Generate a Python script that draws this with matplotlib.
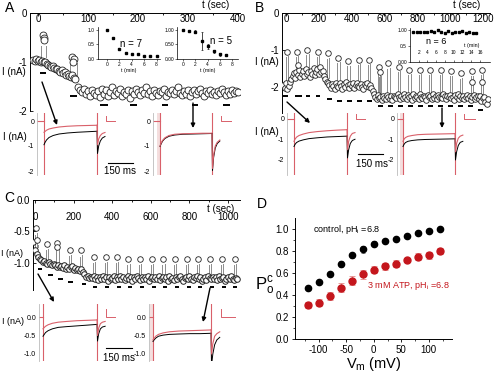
import numpy as np
import matplotlib
matplotlib.use('Agg')
import matplotlib.pyplot as plt

plt.rcParams['font.family'] = ['Liberation Sans', 'DejaVu Sans']
plt.rcParams['mathtext.fontset'] = 'custom'
plt.rcParams['mathtext.rm'] = 'Liberation Sans'
plt.rcParams['mathtext.it'] = 'Liberation Sans'

# ---------------- data ----------------
# Panel A time course
A_t_early = np.arange(-10, 76, 3)
A_v_early = [-0.95, -0.97, -0.93, -0.98, -0.96, -1.0, -0.97, -1.01, -1.0, -1.04,
             -1.06, -1.08, -1.1, -1.09, -1.13, -1.15, -1.14, -1.18, -1.2, -1.17,
             -1.23, -1.21, -1.26, -1.24, -1.28, -1.3, -1.27, -1.32, -1.35]
A_t_late = np.arange(80, 404, 4)
A_v_late = [-1.52, -1.58, -1.62, -1.55, -1.66, -1.6, -1.7, -1.57, -1.63, -1.68,
            -1.6, -1.72, -1.55, -1.65, -1.58, -1.7, -1.62, -1.5, -1.67, -1.6,
            -1.64, -1.56, -1.7, -1.61, -1.66, -1.58, -1.73, -1.6, -1.65, -1.55,
            -1.62, -1.68, -1.57, -1.64, -1.5, -1.66, -1.6, -1.7, -1.58, -1.63,
            -1.67, -1.59, -1.62, -1.55, -1.69, -1.61, -1.64, -1.57, -1.66, -1.6,
            -1.52, -1.63, -1.68, -1.6, -1.65, -1.57, -1.7, -1.62, -1.58, -1.66,
            -1.6, -1.55, -1.64, -1.69, -1.6, -1.63, -1.57, -1.66, -1.61, -1.68,
            -1.59, -1.64, -1.56, -1.62, -1.67, -1.6, -1.65, -1.58, -1.63, -1.6, -1.62]
A_spike_t = [9, 12, 11, 67, 71, 69]
A_spike_v = [-0.45, -0.52, -0.56, -0.89, -0.94, -0.99]
A_stem_t = [6, 16, 64, 77]
A_stem_top = [-0.67, -0.67, -1.02, -1.02]
A_stem_bot = [-0.89, -0.89, -1.3, -1.37]
A_dash_start = [4, 64, 124, 184, 248, 308, 370]
A_dash_end = [16, 78, 140, 198, 260, 320, 384]
A_dash_level = [-1.22, -1.69, -1.88, -1.88, -1.88, -1.88, -1.88]

A1_t = [0, 1, 2, 3, 4, 5, 6, 7, 8]
A1_v = [1.0, 0.72, 0.35, 0.22, 0.18, 0.17, 0.1, 0.1, 0.12]
A1_e = [0.0, 0.04, 0.02, 0.03, 0.02, 0.02, 0.01, 0.01, 0.02]
A2_t = [0, 1, 2, 3, 4, 5, 6, 7]
A2_v = [1.0, 0.97, 0.93, 0.62, 0.43, 0.26, 0.16, 0.14]
A2_e = [0.0, 0.02, 0.05, 0.3, 0.1, 0.05, 0.05, 0.02]

# Panel B time course
B_t = np.arange(-16, 1236, 8)
B_v = [-1.95, -2.02, -1.9, -2.06, -1.98, -1.85, -1.78, -1.7,
       -1.62, -1.75, -1.58, -1.68, -1.55, -1.72, -1.64, -1.57, -1.7, -1.5,
       -1.66, -1.6, -1.73, -1.56, -1.65, -1.48, -1.68, -1.6, -1.52, -1.66,
       -1.45, -1.6, -1.56, -1.7, -1.78, -1.85,
       -1.9, -1.95, -2.02, -1.92, -1.98, -2.05, -1.9, -1.96, -2.0, -1.88,
       -1.97, -2.04, -1.93, -1.99, -1.86, -1.95, -2.02, -1.92, -1.98, -1.9,
       -2.03, -1.95, -1.88, -1.97, -2.0, -1.93, -1.99, -2.05, -1.92, -1.96,
       -1.9, -2.0, -1.95, -2.02, -2.1,
       -2.2, -2.28, -2.32, -2.22, -2.3, -2.26, -2.35, -2.24, -2.29, -2.33,
       -2.21, -2.27, -2.31, -2.25, -2.36, -2.23, -2.28, -2.3, -2.2, -2.26,
       -2.32, -2.24, -2.29, -2.18, -2.27, -2.33, -2.22, -2.28, -2.25, -2.35,
       -2.2, -2.3, -2.24, -2.27, -2.32, -2.19, -2.26, -2.3, -2.23, -2.28,
       -2.34, -2.21, -2.27, -2.25, -2.31, -2.2, -2.29, -2.24, -2.33, -2.22,
       -2.28, -2.26, -2.3, -2.19, -2.25, -2.32, -2.23, -2.28, -2.21, -2.3,
       -2.26, -2.34, -2.22, -2.27, -2.2, -2.31, -2.25, -2.29, -2.23, -2.33,
       -2.27, -2.21, -2.3, -2.24, -2.36, -2.26, -2.22, -2.31, -2.28, -2.25,
       -2.33, -2.24, -2.38, -2.3, -2.27, -2.4, -2.45, -2.32]
B_spike_t = [4, 65, 73, 130, 193, 254, 319, 380, 445, 506, 567, 573, 624, 689,
             752, 817, 878, 943, 1004, 1065, 1132, 1132, 1195, 1195]
B_spike_v = [-1.05, -1.05, -1.4, -1.0, -1.05, -1.09, -1.21, -1.3, -1.27, -1.27,
             -1.45, -1.59, -1.36, -1.45, -1.54, -1.54, -1.54, -1.54, -1.57,
             -1.63, -1.57, -1.86, -1.54, -1.86]
B_stem_bot = [-1.95, -1.6, -1.6, -1.65, -1.62, -1.75, -1.92, -1.95, -1.95, -1.95,
              -2.2, -2.2, -2.2, -2.22, -2.22, -2.22, -2.22, -2.22, -2.22,
              -2.22, -2.2, -2.2, -2.2, -2.2]
B_dash_start = [-20, 55, 120, 181, 248, 309, 370, 431, 496, 563, 624, 685, 746,
                807, 868, 929, 990, 1051, 1112, 1173]
B_dash_end = [14, 96, 146, 207, 279, 340, 401, 462, 522, 593, 654, 711, 772,
              833, 894, 959, 1020, 1077, 1138, 1203]
B_dash_level = [-2.24, -2.24, -2.24, -2.24, -2.31, -2.37, -2.37, -2.37, -2.37,
                -2.5, -2.5, -2.5, -2.5, -2.5, -2.5, -2.5, -2.5, -2.5, -2.5, -2.62]
B_in_t = [0.7, 1.5, 2.3, 3.1, 3.9, 4.7, 5.5, 6.3, 7.1, 7.9, 8.7, 9.5, 10.3,
          11.1, 11.9, 12.7, 13.5, 14.3, 15.1]
B_in_v = [0.94, 0.92, 0.93, 0.94, 0.95, 0.97, 0.95, 1.0, 0.94, 0.91, 0.97, 0.9,
          0.95, 0.93, 0.96, 0.9, 0.92, 0.91, 0.9]

# Panel C time course
C_t = np.arange(-8, 1056, 8)
C_v = [-0.66, -0.8, -0.86, -0.9, -0.94,
       -0.96, -0.98, -0.97, -1.0, -1.01, -0.99, -1.02, -1.03, -1.01,
       -1.04, -1.06, -1.03, -1.07, -1.05, -1.08, -1.04, -1.09, -1.06, -1.1,
       -1.07, -1.05, -1.11, -1.08, -1.12, -1.09, -1.13, -1.1, -1.15,
       -1.18, -1.22, -1.2, -1.24, -1.22,
       -1.24, -1.21, -1.26, -1.23, -1.27, -1.22, -1.25, -1.2, -1.26, -1.23,
       -1.28, -1.22, -1.25, -1.24, -1.21, -1.27, -1.23, -1.26, -1.2, -1.25,
       -1.22, -1.27, -1.24, -1.21, -1.26, -1.23, -1.28, -1.22, -1.25, -1.2,
       -1.24, -1.27, -1.22, -1.25, -1.23, -1.26, -1.21, -1.28, -1.24, -1.22,
       -1.26, -1.23, -1.25, -1.2, -1.27, -1.24, -1.22, -1.26, -1.23, -1.28,
       -1.21, -1.25, -1.24, -1.27, -1.22, -1.26, -1.23, -1.2, -1.25, -1.28,
       -1.24, -1.22, -1.26, -1.21, -1.25, -1.27, -1.23, -1.24, -1.2, -1.26,
       -1.22, -1.28, -1.25, -1.23, -1.27, -1.21, -1.24, -1.26, -1.22, -1.25,
       -1.23, -1.27, -1.2, -1.26, -1.24, -1.22, -1.28, -1.25, -1.23, -1.26,
       -1.21, -1.25, -1.27, -1.24, -1.26]
C_spike_t = [5, 8, 60, 116, 116, 181, 238, 307, 368, 423, 484, 544, 604, 665,
             725, 786, 846, 907, 970, 1036]
C_spike_v = [-0.45, -0.64, -0.7, -0.68, -0.74, -0.79, -0.8, -0.9, -0.9, -0.9,
             -0.93, -0.93, -0.93, -0.93, -0.94, -0.94, -0.94, -0.94, -0.94, -0.94]
C_stem_bot = [-0.75, -0.75, -1.0, -1.05, -1.05, -1.08, -1.1, -1.2, -1.2, -1.2,
              -1.2, -1.2, -1.2, -1.2, -1.2, -1.2, -1.2, -1.2, -1.2, -1.2]
C_dash_start = [17, 69, 121, 173, 242, 302, 363, 423, 484, 544, 604, 665, 725,
                786, 846, 906, 967, 1027]
C_dash_end = [38, 92, 143, 195, 264, 323, 384, 444, 505, 565, 625, 686, 746,
              807, 867, 927, 988, 1048]
C_dash_level = [-1.1, -1.19, -1.25, -1.31, -1.34] + [-1.39] * 13

# Current traces (ms after step onset, nA)
PULSE = 318
T_ON = [0, 6, 15, 30, 55, 90, 140, 200, 260, 318]
T_TAIL = [318, 321, 328, 338, 350, 366]
TR = {
    'A1': dict(red=[-0.45, -0.42, -0.37, -0.32, -0.28, -0.24, -0.21, -0.19, -0.18, -0.17],
               blk=[-0.95, -0.86, -0.76, -0.66, -0.58, -0.52, -0.48, -0.45, -0.43, -0.41],
               red_t=[-0.17, -0.95, -0.72, -0.58, -0.5, -0.46],
               blk_t=[-0.41, -1.3, -1.0, -0.8, -0.68, -0.62]),
    'A2': dict(red=[-1.0, -0.9, -0.78, -0.67, -0.58, -0.53, -0.51, -0.5, -0.49, -0.49],
               blk=[-1.02, -0.93, -0.81, -0.7, -0.61, -0.56, -0.53, -0.52, -0.51, -0.5],
               red_t=[-0.49, -1.9, -1.35, -1.0, -0.85, -0.76],
               blk_t=[-0.5, -1.98, -1.45, -1.08, -0.9, -0.8]),
    'B1': dict(red=[-1.1, -1.0, -0.9, -0.82, -0.75, -0.68, -0.63, -0.59, -0.56, -0.54],
               blk=[-1.35, -1.25, -1.16, -1.09, -1.03, -0.97, -0.93, -0.89, -0.87, -0.85],
               red_t=[-0.54, -1.5, -1.1, -0.85, -0.72, -0.68],
               blk_t=[-0.85, -1.9, -1.5, -1.2, -1.06, -1.0]),
    'B2': dict(red=[-1.1, -1.0, -0.92, -0.86, -0.82, -0.78, -0.76, -0.75, -0.74, -0.73],
               blk=[-1.35, -1.25, -1.16, -1.1, -1.06, -1.03, -1.01, -1.0, -0.99, -0.98],
               red_t=[-0.73, -1.6, -1.2, -0.95, -0.85, -0.8],
               blk_t=[-0.98, -2.0, -1.6, -1.3, -1.15, -1.1]),
    'C1': dict(red=[-0.32, -0.29, -0.25, -0.21, -0.17, -0.14, -0.12, -0.1, -0.09, -0.08],
               blk=[-0.52, -0.48, -0.42, -0.37, -0.32, -0.28, -0.26, -0.24, -0.22, -0.2],
               red_t=[-0.08, -0.5, -0.3, -0.18, -0.14, -0.12],
               blk_t=[-0.2, -0.65, -0.45, -0.32, -0.27, -0.25]),
    'C2': dict(red=[-0.62, -0.58, -0.52, -0.47, -0.43, -0.4, -0.38, -0.37, -0.36, -0.35],
               blk=[-0.66, -0.62, -0.57, -0.52, -0.49, -0.47, -0.46, -0.45, -0.45, -0.44],
               red_t=[-0.35, -1.0, -0.72, -0.52, -0.45, -0.4],
               blk_t=[-0.44, -1.3, -1.0, -0.75, -0.62, -0.55]),
}

# Panel D
D_vm = [-120, -100, -80, -60, -40, -20, 0, 20, 40, 60, 80, 100, 120]
D_ctrl = [0.466, 0.515, 0.59, 0.68, 0.76, 0.815, 0.867, 0.89, 0.91, 0.94, 0.965, 0.98, 1.0]
D_ctrl_err = [0.015, 0.015, 0.015, 0.025, 0.02, 0.035, 0.02, 0.015, 0.02, 0.015, 0.015, 0.012, 0.01]
D_atp = [0.31, 0.33, 0.39, 0.466, 0.53, 0.59, 0.63, 0.66, 0.685, 0.72, 0.75, 0.76, 0.80]
D_atp_err = [0.03, 0.03, 0.035, 0.04, 0.04, 0.04, 0.03, 0.035, 0.03, 0.02, 0.03, 0.03, 0.03]

# ---------------- drawing ----------------
W, H = 500, 372
fig = plt.figure(figsize=(5, 3.72), dpi=100)
RED_L = '#d9606a'
GRAY = '#8c8c8c'


def pax(x0, y0, x1, y1):
    return fig.add_axes([x0 / W, 1 - y1 / H, (x1 - x0) / W, (y1 - y0) / H])


def time_course(ax, xt, yt, ylab, xpad=-1):
    for s in ['right', 'bottom']:
        ax.spines[s].set_visible(False)
    for s in ['left', 'top']:
        ax.spines[s].set_linewidth(0.7)
    ax.patch.set_alpha(0)
    ax.xaxis.tick_top()
    ax.set_xticks(xt)
    ax.set_xticklabels([str(v) for v in xt], va='top')
    ax.set_yticks(yt)
    ax.set_yticklabels(ylab)
    ax.tick_params(axis='x', direction='in', length=2, width=0.6, labelsize=7, pad=xpad)
    ax.tick_params(axis='y', direction='in', length=2, width=0.6, labelsize=7, pad=2)


def scatter(ax, t, v, ms, lw=0.6):
    ax.plot(t, v, 'o', ms=ms, mfc='white', mec='#222222', mew=lw, ls='none', zorder=3)


def stems(ax, t, top, bot):
    for ti, a, b in zip(t, top, bot):
        ax.plot([ti, ti], [a, b], color=GRAY, lw=0.7, zorder=2)


def dashes(ax, s, e, lev):
    for a, b, c in zip(s, e, lev):
        ax.plot([a, b], [c, c], color='k', lw=1.4, zorder=4, solid_capstyle='butt')


# ---- Panel A ----
axA = pax(30, 13, 240, 111)
axA.set_xlim(-16, 404)
axA.set_ylim(-2, 0)
time_course(axA, [0, 100, 200, 300, 400], [0, -1, -2], ['0', '-1', '-2'])
axA.set_xticks([50, 150, 250, 350], minor=True)
axA.tick_params(which='minor', direction='in', length=1.5)
stems(axA, A_stem_t, A_stem_top, A_stem_bot)
scatter(axA, A_t_early, A_v_early, 5)
scatter(axA, A_t_late, A_v_late, 5)
scatter(axA, A_spike_t, A_spike_v, 5)
dashes(axA, A_dash_start, A_dash_end, A_dash_level)


def small_inset(ax, xl, yl, ytl):
    for s in ['right', 'top']:
        ax.spines[s].set_visible(False)
    for s in ['left', 'bottom']:
        ax.spines[s].set_linewidth(0.5)
    ax.set_xlim(*xl)
    ax.set_ylim(*yl)
    ax.set_yticks([0, 0.5, 1.0])
    ax.set_yticklabels(ytl)
    ax.set_xticks([0, 2, 4, 6, 8])
    ax.tick_params(length=1.2, width=0.4, labelsize=3.5, pad=1)
    ax.set_xlabel('t (min)', fontsize=3.8, labelpad=0.5)
    ax.patch.set_alpha(0)


axA1 = pax(98, 27, 160, 59)
small_inset(axA1, (-1.45, 8.55), (0, 1.1), ['0.0', '0.5', '1.0'])
axA1.errorbar(A1_t, A1_v, yerr=A1_e, fmt='s', ms=1.6, color='k', elinewidth=0.5, capsize=0)
axA2 = pax(177, 27, 238, 59)
small_inset(axA2, (-0.97, 8.9), (0, 1.1), ['0.00', '0.50', '1.00'])
axA2.errorbar(A2_t, A2_v, yerr=A2_e, fmt='s', ms=1.6, color='k', elinewidth=0.5, capsize=0.8,
              capthick=0.4)

# ---- Panel B ----
axB = pax(282, 13, 490, 113)
axB.set_xlim(-24.4, 1244)
axB.set_ylim(-2.7, 0)
time_course(axB, [0, 200, 400, 600, 800, 1000, 1200], [0, -1, -2], ['0', '-1', '-2'])
axB.set_xticks([100, 300, 500, 700, 900, 1100], minor=True)
axB.tick_params(which='minor', direction='in', length=1.5)
stems(axB, [t + 8 for t in B_spike_t], [v - 0.12 for v in B_spike_v], B_stem_bot)
stems(axB, [t - 6 for t in B_spike_t], [v - 0.14 for v in B_spike_v], B_stem_bot)
scatter(axB, B_t, B_v, 4)
scatter(axB, B_spike_t, B_spike_v, 4)
dashes(axB, B_dash_start, B_dash_end, B_dash_level)

axBi = pax(410, 28, 490, 62)
for s in ['right', 'top']:
    axBi.spines[s].set_visible(False)
for s in ['left', 'bottom']:
    axBi.spines[s].set_linewidth(0.5)
axBi.set_xlim(0, 18.3)
axBi.set_ylim(0, 1.06)
axBi.set_yticks([0, 0.5, 1.0])
axBi.set_yticklabels(['0.00', '0.5', '1.00'])
axBi.set_xticks([2, 4, 6, 8, 10, 12, 14, 16])
axBi.set_xticklabels(['2', '4', '6', '8', '10', '12', '14', '16'], va='bottom')
axBi.tick_params(axis='x', direction='in', length=1.2, width=0.4, labelsize=3.5, pad=-5)
axBi.tick_params(axis='y', length=1.2, width=0.4, labelsize=3.5, pad=1)
axBi.patch.set_alpha(0)
axBi.plot(B_in_t, B_in_v, 's', ms=1.5, color='k')

# ---- Panel C ----
axC = pax(33, 200, 240, 290)
axC.set_xlim(-10.4, 1062)
axC.set_ylim(-1.43, 0)
time_course(axC, [0, 200, 400, 600, 800, 1000], [0, -0.5, -1.0], ['0.0', '-0.5', '-1.0'], xpad=-9)
axC.set_xticks([100, 300, 500, 700, 900], minor=True)
axC.tick_params(which='minor', direction='in', length=1.5)
stems(axC, [t + 6 for t in C_spike_t], [v - 0.08 for v in C_spike_v], C_stem_bot)
stems(axC, [t - 5 for t in C_spike_t], [v - 0.1 for v in C_spike_v], C_stem_bot)
scatter(axC, C_t, C_v, 4, lw=0.7)
scatter(axC, C_spike_t, C_spike_v, 4)
dashes(axC, C_dash_start, C_dash_end, C_dash_level)


# ---- current traces ----
def trace(key, x0, x1, on, off, y0, y1, yzero, ppn, yt, ytl, band=False):
    ax = pax(x0, y0, x1, y1)
    k = PULSE / (off - on)
    ax.set_xlim((x0 - on) * k, (x1 - on) * k)
    ax.set_ylim(-(y1 - yzero) / ppn, (yzero - y0) / ppn)
    for s in ['right', 'top', 'bottom']:
        ax.spines[s].set_visible(False)
    ax.spines['left'].set_color('#bbbbbb')
    ax.spines['left'].set_linewidth(0.6)
    ax.set_xticks([])
    ax.set_yticks(yt)
    ax.set_yticklabels(ytl)
    ax.tick_params(axis='y', length=0, labelsize=5, pad=2)
    ax.patch.set_alpha(0)
    d = TR[key]
    xl = ax.get_xlim()
    if band:
        ax.axvspan(-3 * k, 0, color='#f4dede', lw=0)
    ax.plot([xl[0], 0], [0, 0], color=RED_L, lw=0.8)
    ax.axvline(0, color=RED_L, lw=0.8)
    ax.axvline(PULSE, color=RED_L, lw=0.8)
    ax.plot(T_ON, d['blk'], color='k', lw=0.7)
    ax.plot(T_ON, d['red'], color=RED_L, lw=0.8)
    ax.plot(T_TAIL, d['blk_t'], color='k', lw=0.7)
    ax.plot(T_TAIL, d['red_t'], color=RED_L, lw=0.8)
    ax.plot([T_TAIL[-1] + 6, T_TAIL[-1] + 6, xl[1] - 3], [0.22, 0, 0], color=RED_L, lw=0.7)
    return ax


trace('A1', 37, 116, 44, 97, 113, 175, 121, 25, [0, -1, -2], ['0', '-1', '-2'])
trace('A2', 153, 232, 160, 212, 113, 175, 121, 25, [0, -1, -2], ['0', '-1', '-2'], band=True)
trace('B1', 287, 366, 294, 347, 113, 175, 118.5, 20.75, [0, -1, -2], ['0', '-1', '-2'])
trace('B2', 397, 476, 403, 455, 113, 175, 118.5, 20.75, [0, -1, -2], ['0', '-1', '-2'], band=True)
trace('C1', 39, 116, 43, 97, 304, 361, 317, 37, [0, -0.5, -1.0], ['0.0', '-0.5', '-1.0'])
trace('C2', 149, 236, 153, 211, 304, 361, 317, 37, [0, -0.5, -1.0], ['0.0', '-0.5', '-1.0'], band=True)

# ---- Panel D ----
axD = pax(295, 218, 452, 339)
axD.set_xlim(-143, 142)
axD.set_ylim(0, 1.1)
for s in ['right', 'top']:
    axD.spines[s].set_visible(False)
for s in ['left', 'bottom']:
    axD.spines[s].set_linewidth(0.7)
axD.set_xticks([-100, -50, 0, 50, 100])
axD.set_xticklabels(['-100', '-50', '0', '50', '100'])
axD.set_xticks([-125, -75, -25, 25, 75, 125], minor=True)
axD.set_yticks([0, 0.2, 0.4, 0.6, 0.8, 1.0])
axD.set_yticklabels(['0.0', '0.2', '0.4', '0.6', '0.8', '1.0'])
axD.set_yticks([0.1, 0.3, 0.5, 0.7, 0.9], minor=True)
axD.tick_params(which='major', length=2.5, width=0.6, labelsize=7, pad=2)
axD.tick_params(which='minor', length=1.5, width=0.5)
axD.errorbar(D_vm, D_atp, yerr=D_atp_err, fmt='o', ms=5, color='#c4161c', ecolor='#e58a8a',
             elinewidth=0.8, capsize=2, capthick=0.6, zorder=3)
axD.errorbar(D_vm, D_ctrl, yerr=D_ctrl_err, fmt='o', ms=4.5, color='k', ecolor='#555555',
             elinewidth=0.7, capsize=1.5, capthick=0.5, zorder=4)
axD.text(-110, 1.0, 'control, pH$_\\mathregular{i}$ =6.8', fontsize=6.5, va='center')
axD.text(-13, 0.49, '3 mM ATP, pH$_\\mathregular{i}$ =6.8', fontsize=6.5, va='center', color='#c4161c')
axD.patch.set_alpha(0)

# ---------------- overlay: labels, arrows, scale bars ----------------
ov = fig.add_axes([0, 0, 1, 1])
ov.set_xlim(0, W)
ov.set_ylim(H, 0)
ov.axis('off')
ov.patch.set_alpha(0)

for lab, x, y in [('A', 5, 8), ('B', 255, 8), ('C', 4, 198), ('D', 257, 204)]:
    ov.text(x, y, lab, fontsize=10, va='center', ha='left')
ov.text(216, 5, 't (sec)', fontsize=7, ha='center', va='center')
ov.text(467, 5, 't (sec)', fontsize=7, ha='center', va='center')
ov.text(221, 209, 't (sec)', fontsize=7, ha='center', va='center')
ov.text(14, 72, 'I (nA)', fontsize=7, ha='center', va='center')
ov.text(267, 62, 'I (nA)', fontsize=7, ha='center', va='center')
ov.text(12, 254, 'I (nA)', fontsize=6.5, ha='center', va='center')
ov.text(15, 137, 'I (nA)', fontsize=7, ha='center', va='center')
ov.text(267, 132, 'I (nA)', fontsize=7, ha='center', va='center')
ov.text(13, 322, 'I (nA)', fontsize=6.5, ha='center', va='center')
ov.text(131, 44, 'n = 7', fontsize=7, ha='center', va='center')
ov.text(221, 41, 'n = 5', fontsize=7, ha='center', va='center')
ov.text(436, 42, 'n = 6', fontsize=6.5, ha='center', va='center')
ov.text(472, 46, 't (min)', fontsize=3.8, ha='center', va='center')
ov.text(265, 286, 'P$_\\mathregular{o}^{\\mathregular{c}}$', fontsize=12, ha='center', va='center')
ov.text(374, 364, 'V$_\\mathregular{m}$ (mV)', fontsize=10.5, ha='center', va='center')

for (x0, x1, y, tx, ty) in [(108, 133, 163, 120.5, 171), (358, 383, 154, 372, 164),
                            (106, 132, 348, 119, 358)]:
    ov.plot([x0, x1], [y, y], color='k', lw=0.8)
    ov.text(tx, ty, '150 ms', fontsize=7, ha='center', va='center')

arrow = dict(arrowstyle='-|>', color='k', lw=1.0, mutation_scale=6, shrinkA=0, shrinkB=0)
for (xs, ys, xe, ye) in [(42, 82, 57, 125), (193, 103, 193, 128), (287, 102, 310, 123),
                         (442, 108, 442, 128), (38, 274, 54, 302), (210, 288, 203, 322)]:
    ov.annotate('', xy=(xe, ye), xytext=(xs, ys), arrowprops=arrow)

fig.savefig('out.png', dpi=100)
